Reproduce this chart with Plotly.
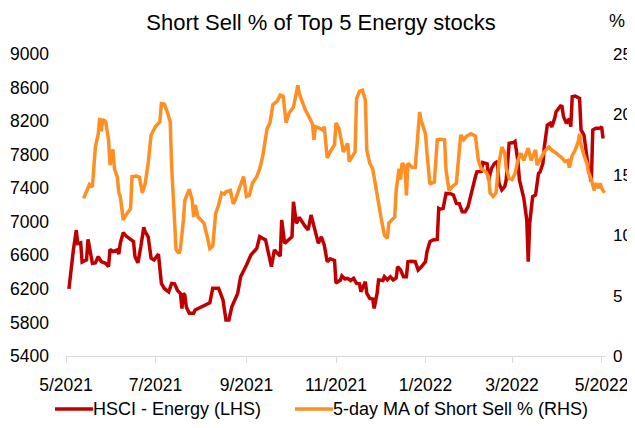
import plotly.graph_objects as go

# ---- data ----
hsci_dates = [
    "2021-05-03","2021-05-04","2021-05-06","2021-05-08","2021-05-09","2021-05-11","2021-05-12","2021-05-15",
    "2021-05-16","2021-05-19","2021-05-21","2021-05-23","2021-05-25","2021-05-28","2021-05-30","2021-05-31",
    "2021-06-02","2021-06-05","2021-06-06","2021-06-07","2021-06-09","2021-06-11","2021-06-14","2021-06-16",
    "2021-06-17","2021-06-19","2021-06-21","2021-06-23","2021-06-24","2021-06-26","2021-06-28","2021-06-30",
    "2021-07-03","2021-07-05","2021-07-07","2021-07-10","2021-07-12","2021-07-14","2021-07-16","2021-07-18",
    "2021-07-19","2021-07-20","2021-07-21","2021-07-22","2021-07-24","2021-07-27","2021-07-28","2021-07-30",
    "2021-08-02","2021-08-07","2021-08-09","2021-08-13","2021-08-16","2021-08-18","2021-08-20","2021-08-22",
    "2021-08-26","2021-08-28","2021-09-01","2021-09-04","2021-09-08","2021-09-10","2021-09-14","2021-09-16",
    "2021-09-18","2021-09-20","2021-09-24","2021-09-25","2021-09-27","2021-10-02","2021-10-03","2021-10-05",
    "2021-10-07","2021-10-11","2021-10-13","2021-10-15","2021-10-17","2021-10-20","2021-10-22","2021-10-24",
    "2021-10-26","2021-10-28","2021-10-31","2021-11-01","2021-11-04","2021-11-05","2021-11-07","2021-11-09",
    "2021-11-11","2021-11-13","2021-11-15","2021-11-17","2021-11-18","2021-11-21","2021-11-22","2021-11-24",
    "2021-11-26","2021-11-27","2021-11-29","2021-11-30","2021-12-03","2021-12-04","2021-12-06","2021-12-08",
    "2021-12-10","2021-12-12","2021-12-13","2021-12-15","2021-12-17","2021-12-19","2021-12-20","2021-12-22",
    "2021-12-25","2021-12-27","2021-12-29","2022-01-01","2022-01-02","2022-01-04","2022-01-06","2022-01-09",
    "2022-01-10","2022-01-11","2022-01-13","2022-01-15","2022-01-18","2022-01-20","2022-01-22","2022-01-24",
    "2022-01-26","2022-01-28","2022-01-30","2022-02-01","2022-02-04","2022-02-05","2022-02-08","2022-02-09",
    "2022-02-12","2022-02-13","2022-02-15","2022-02-17","2022-02-19","2022-02-20","2022-02-22","2022-02-24",
    "2022-02-25","2022-02-27","2022-03-01","2022-03-02","2022-03-03","2022-03-05","2022-03-06","2022-03-09",
    "2022-03-11","2022-03-12","2022-03-13","2022-03-15","2022-03-17","2022-03-19","2022-03-20","2022-03-22",
    "2022-03-23","2022-03-25","2022-03-27","2022-03-28","2022-03-30","2022-03-31","2022-04-03","2022-04-04",
    "2022-04-05","2022-04-07","2022-04-09","2022-04-10","2022-04-11","2022-04-13","2022-04-16","2022-04-17",
    "2022-04-19","2022-04-20","2022-04-22","2022-04-24","2022-04-25","2022-04-27","2022-04-30","2022-05-01",
    "2022-05-02",
]
hsci_values = [
    6200,6390,6660,6900,6740,6750,6520,6545,
    6790,6505,6510,6585,6525,6505,6465,6670,
    6645,6665,6615,6745,6870,6830,6785,6765,
    6585,6510,6705,6935,6880,6820,6565,6545,
    6615,6265,6205,6165,6265,6260,6180,6145,
    5965,6145,6125,5985,5910,5910,5948,5967,
    5996,6035,6207,6207,6068,5829,5830,5987,
    6146,6345,6485,6604,6683,6822,6783,6623,
    6464,6664,6590,7021,6743,6822,7239,6981,
    7053,6945,6902,7081,6945,6743,6822,6723,
    6524,6560,6540,6270,6306,6354,6320,6325,
    6300,6325,6266,6260,6166,6286,6146,6087,
    6080,5967,6146,6306,6300,6345,6310,6345,
    6306,6330,6464,6425,6345,6345,6524,6530,
    6524,6425,6460,6524,6643,6763,6783,6790,
    7160,7150,7160,7338,7335,7319,7219,7215,
    7120,7120,7180,7338,7537,7596,7600,7706,
    7690,7498,7636,7696,7720,7462,7379,7420,
    7498,7935,7940,7944,7957,7718,7498,7279,
    7021,6524,6981,7299,7319,7577,7590,7696,
    7895,8153,8173,8130,8232,8312,8380,8375,
    8257,8173,8230,8133,8491,8499,8471,8094,
    8034,7895,7636,7478,8094,8114,8114,8133,
    7993,
]

ss_dates = [
    "2021-05-13","2021-05-15","2021-05-17","2021-05-19","2021-05-20","2021-05-21","2021-05-23","2021-05-24",
    "2021-05-25","2021-05-26","2021-05-28","2021-05-30","2021-05-31","2021-06-02","2021-06-03","2021-06-05",
    "2021-06-06","2021-06-07","2021-06-09","2021-06-11","2021-06-14","2021-06-15","2021-06-18","2021-06-20",
    "2021-06-22","2021-06-24","2021-06-26","2021-06-28","2021-07-01","2021-07-04","2021-07-05","2021-07-07",
    "2021-07-09","2021-07-11","2021-07-12","2021-07-14","2021-07-15","2021-07-17","2021-07-18","2021-07-20",
    "2021-07-21","2021-07-24","2021-07-26","2021-07-27","2021-07-28","2021-07-30","2021-08-03","2021-08-05",
    "2021-08-07","2021-08-09","2021-08-11","2021-08-13","2021-08-15","2021-08-17","2021-08-18","2021-08-21",
    "2021-08-23","2021-08-24","2021-08-26","2021-08-28","2021-08-30","2021-09-01","2021-09-03","2021-09-05",
    "2021-09-08","2021-09-10","2021-09-12","2021-09-15","2021-09-17","2021-09-19","2021-09-22","2021-09-24",
    "2021-09-26","2021-09-28","2021-09-30","2021-10-03","2021-10-06","2021-10-07","2021-10-11","2021-10-14",
    "2021-10-16","2021-10-17","2021-10-18","2021-10-21","2021-10-23","2021-10-24","2021-10-26","2021-10-28",
    "2021-10-31","2021-11-01","2021-11-03","2021-11-05","2021-11-06","2021-11-09","2021-11-10","2021-11-12",
    "2021-11-14","2021-11-15","2021-11-17","2021-11-19","2021-11-21","2021-11-22","2021-11-24","2021-11-26",
    "2021-11-28","2021-11-29","2021-11-30","2021-12-02","2021-12-04","2021-12-06","2021-12-07","2021-12-09",
    "2021-12-11","2021-12-12","2021-12-14","2021-12-15","2021-12-16","2021-12-18","2021-12-19","2021-12-20",
    "2021-12-23","2021-12-25","2021-12-26","2021-12-28","2021-12-29","2022-01-01","2022-01-02","2022-01-04",
    "2022-01-05","2022-01-07","2022-01-09","2022-01-11","2022-01-14","2022-01-15","2022-01-17","2022-01-19",
    "2022-01-22","2022-01-23","2022-01-25","2022-01-27","2022-01-29","2022-02-01","2022-02-04","2022-02-06",
    "2022-02-08","2022-02-11","2022-02-13","2022-02-14","2022-02-16","2022-02-18","2022-02-20","2022-02-22",
    "2022-02-24","2022-02-25","2022-02-27","2022-03-01","2022-03-03","2022-03-05","2022-03-07","2022-03-09",
    "2022-03-11","2022-03-12","2022-03-14","2022-03-17","2022-03-18","2022-03-19","2022-03-21","2022-03-23",
    "2022-03-26","2022-03-28","2022-03-31","2022-04-04","2022-04-06","2022-04-08","2022-04-09","2022-04-11",
    "2022-04-13","2022-04-15","2022-04-16","2022-04-17","2022-04-19","2022-04-21","2022-04-22","2022-04-24",
    "2022-04-26","2022-04-27","2022-04-29","2022-04-30","2022-05-01","2022-05-03",
]
ss_values = [
    13.05,13.7,14.2,14.0,15.96,17.3,18.4,19.7,
    18.6,19.6,19.4,17.9,15.8,17.1,15.5,14.8,
    13.5,13.2,11.26,11.7,12.2,14.85,14.9,14.8,
    13.5,14.3,15.95,18.3,18.99,19.4,20.9,20.85,
    20.2,19.4,15.7,11.26,8.8,8.5,8.9,11.26,
    12.9,13.8,12.9,11.5,12.5,11.5,11.0,10.0,
    8.9,9.1,11.8,12.5,13.5,13.4,13.6,13.7,
    12.6,12.8,13.5,14.2,14.85,13.2,13.3,14.3,
    14.85,15.5,16.5,18.8,19.3,20.8,21.1,21.6,
    21.5,19.3,20.1,20.6,22.4,21.7,20.4,19.7,
    19.2,17.9,18.99,18.85,18.7,18.99,16.4,16.9,
    17.5,19.3,18.85,17.6,16.9,17.6,16.1,16.5,
    16.9,21.3,21.9,22.0,21.2,17.05,15.95,15.5,
    14.0,13.5,12.4,11.26,10.0,9.74,11.0,11.26,
    11.5,13.7,15.5,14.6,15.95,15.7,13.3,15.95,
    15.6,15.6,16.9,20.2,19.5,18.4,16.8,14.2,
    14.3,14.4,17.9,17.95,17.9,15.4,13.7,14.0,
    14.3,15.8,18.3,17.9,18.2,18.4,18.2,16.2,
    15.5,15.26,14.85,13.5,13.2,13.5,15.95,17.3,
    16.8,15.5,14.7,14.6,15.1,16.2,16.8,16.2,
    16.8,17.2,16.2,17.05,15.8,16.0,16.4,16.9,
    17.3,17.05,16.8,16.4,16.1,16.2,15.6,16.6,
    17.05,17.7,18.4,17.5,16.6,15.95,15.26,14.6,
    13.7,14.3,13.9,14.3,13.9,13.5,
]

title_text = "Short Sell % of Top 5 Energy stocks"
hsci_name = "HSCI - Energy (LHS)"
ss_name = "5-day MA of Short Sell % (RHS)"
x_tick_vals = ["2021-05-01","2021-07-01","2021-09-01","2021-11-01","2022-01-01","2022-03-01","2022-05-01"]
x_tick_text = ["5/2021","7/2021","9/2021","11/2021","1/2022","3/2022","5/2022"]
left_ticks = [5400, 5800, 6200, 6600, 7000, 7400, 7800, 8200, 8600, 9000]
right_ticks = [0, 5, 10, 15, 20, 25]

FONT = "Liberation Sans, Arial, sans-serif"
RED = "#c00000"
ORANGE = "#ff8f22"

# figure geometry (the page adds an 8px body margin, so the figure is 8px smaller)
W, H = 627, 420
ML, MR, MT, MB = 58, 29, 46, 72
PW, PH = W - ML - MR, H - MT - MB


def px(fx):
    return (fx - ML) / PW


def py(fy):
    return (H - MB - fy) / PH


fig = go.Figure()
fig.add_trace(go.Scatter(x=hsci_dates, y=hsci_values, name=hsci_name, mode="lines",
                         line=dict(color=RED, width=3.5), yaxis="y", showlegend=False))
fig.add_trace(go.Scatter(x=ss_dates, y=ss_values, name=ss_name, mode="lines",
                         line=dict(color=ORANGE, width=3.5), yaxis="y2", showlegend=False))

# legend drawn by hand to match the reference's spacing
legend_y = py(401)
shapes = [
    dict(type="line", xref="paper", yref="paper", x0=px(47), x1=px(85), y0=legend_y, y1=legend_y,
         line=dict(color=RED, width=3.5)),
    dict(type="line", xref="paper", yref="paper", x0=px(287), x1=px(325), y0=legend_y, y1=legend_y,
         line=dict(color=ORANGE, width=3.5)),
]
annotations = [
    dict(text=hsci_name, xref="paper", yref="paper", x=px(83), y=legend_y, xanchor="left",
         yanchor="middle", showarrow=False, font=dict(family=FONT, size=18)),
    dict(text=ss_name, xref="paper", yref="paper", x=px(323), y=legend_y, xanchor="left",
         yanchor="middle", showarrow=False, font=dict(family=FONT, size=18)),
    dict(text="%", xref="paper", yref="paper", x=px(609), y=py(13),
         xanchor="center", yanchor="middle", showarrow=False, font=dict(family=FONT, size=18)),
]

fig.update_layout(
    width=W, height=H,
    margin=dict(l=ML, r=MR, t=MT, b=MB, autoexpand=False),
    paper_bgcolor="white", plot_bgcolor="white",
    font=dict(family=FONT, size=17, color="#000000"),
    title=dict(text=title_text, x=313 / W, xanchor="center", y=1 - 14 / H, yanchor="middle",
               font=dict(family=FONT, size=22, color="#000000")),
    xaxis=dict(type="date", range=["2021-05-01", "2022-05-04"], automargin=False,
               tickmode="array", tickvals=x_tick_vals, ticktext=x_tick_text,
               showgrid=False, zeroline=False, showline=True, linecolor="#d9d9d9", linewidth=1,
               ticks="outside", ticklen=6, tickcolor="#d9d9d9", ticklabelstandoff=7,
               tickfont=dict(family=FONT, size=17.5)),
    yaxis=dict(range=[5400, 9000], tickmode="array", tickvals=left_ticks, automargin=False,
               showgrid=False, zeroline=False, showline=False, ticks="",
               ticklabelstandoff=16, tickfont=dict(family=FONT, size=17.5)),
    yaxis2=dict(range=[0, 25], tickmode="array", tickvals=right_ticks, overlaying="y", side="right",
                automargin=False, showgrid=False, zeroline=False, showline=False, ticks="",
                ticklabelstandoff=6, tickfont=dict(family=FONT, size=17)),
    shapes=shapes,
    annotations=annotations,
    showlegend=False,
)

fig.write_html("out.html")
